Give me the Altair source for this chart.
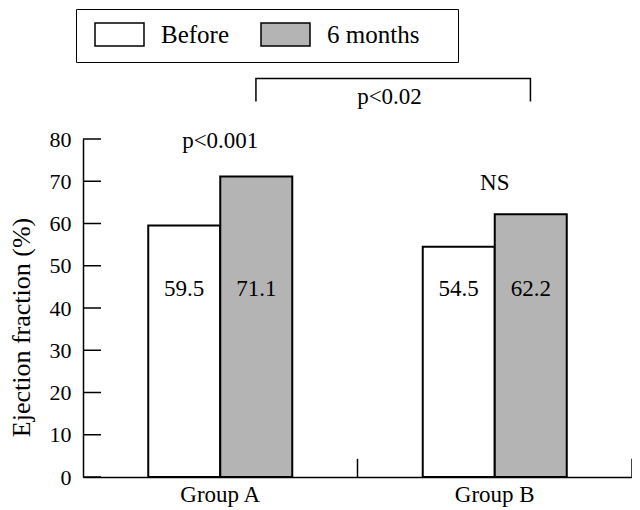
import altair as alt
import pandas as pd

# ---- data ----
groups = ["Group A", "Group A", "Group B", "Group B"]
periods = ["Before", "6 months", "Before", "6 months"]
values = [59.5, 71.1, 54.5, 62.2]
value_labels = ["59.5", "71.1", "54.5", "62.2"]
label_y = 44.4

group_names = ["Group A", "Group B"]
period_names = ["Before", "6 months"]
period_colors = ["#ffffff", "#b4b4b4"]

y_ticks = [0, 10, 20, 30, 40, 50, 60, 70, 80]

annot_groups = ["Group A", "Group B"]
annot_texts = ["p<0.001", "NS"]
annot_y = [79.6, 69.5]

bracket_groups = ["Group A", "Group A", "Group B", "Group B"]
bracket_y = [88.9, 94.3, 94.3, 88.9]
bracket_order = [0, 1, 2, 3]
bracket_text = "p<0.02"
bracket_text_y = 89.9

FONT = "Liberation Serif, Times New Roman, serif"
PAD = "\u00a0" * 4 + "\u200b"

df = pd.DataFrame({"group": groups, "period": periods, "value": values, "label": value_labels})
ticks_df = pd.DataFrame({"v": y_ticks})
annot_df = pd.DataFrame({"group": annot_groups, "text": annot_texts, "y": annot_y})
br_df = pd.DataFrame({"group": bracket_groups, "y": bracket_y, "o": bracket_order})
brt_df = pd.DataFrame({"group": ["Group A"], "text": [bracket_text], "y": [bracket_text_y]})
gb_df = pd.DataFrame({"group": group_names})

xscale = alt.Scale(domain=group_names, paddingInner=0, paddingOuter=0)
oscale = alt.Scale(domain=period_names, paddingInner=0, paddingOuter=0.906)
yscale = alt.Scale(domain=[0, 80], nice=False)

bars = alt.Chart(df).mark_bar(stroke="black", strokeWidth=2).encode(
    x=alt.X("group:N", scale=xscale, title=None,
            axis=alt.Axis(labelAngle=0, ticks=False, labelPadding=6, labelFontSize=23)),
    xOffset=alt.XOffset("period:N", scale=oscale),
    y=alt.Y("value:Q", scale=yscale,
            axis=alt.Axis(values=y_ticks, ticks=False, labelPadding=12, grid=False,
                          title="Ejection fraction (%)", titleFontSize=26,
                          titleFont=FONT, titleFontWeight="normal", titleColor="black",
                          titleX=-62, titleY=188, titleAlign="center", titleBaseline="middle")),
    fill=alt.Fill("period:N", scale=alt.Scale(domain=period_names, range=period_colors),
                  legend=alt.Legend(
                      title=None, orient="none", legendX=-7, legendY=-130,
                      direction="horizontal",
                      symbolType="M-2.13,-1H2.13V1H-2.13Z", symbolSize=529,
                      symbolStrokeColor="black", symbolStrokeWidth=1.5,
                      symbolOffset=18,
                      labelFont=FONT, labelFontSize=25, labelColor="black",
                      labelOffset=29, columnPadding=25, padding=13,
                      labelExpr="datum.label == '6 months' ? '6 months" + PAD + "' : datum.label",
                      strokeColor="black", fillColor="white")),
)

vals = alt.Chart(df).mark_text(font=FONT, fontSize=23, color="black", baseline="middle").encode(
    x=alt.X("group:N", scale=xscale),
    xOffset=alt.XOffset("period:N", scale=oscale),
    y=alt.datum(label_y),
    text="label:N",
)

yt = alt.Chart(ticks_df).mark_rule(color="black", strokeWidth=1.5).encode(
    y=alt.Y("v:Q", scale=yscale),
    x=alt.value(0),
    x2=alt.value(18),
)

xt = alt.Chart(gb_df).mark_rule(color="black", strokeWidth=1.5).encode(
    x=alt.X("group:N", scale=xscale, bandPosition=1),
    y=alt.datum(0),
    y2=alt.datum(4.3),
)

annots = alt.Chart(annot_df).mark_text(font=FONT, fontSize=23, color="black", baseline="middle").encode(
    x=alt.X("group:N", scale=xscale),
    y=alt.Y("y:Q", scale=yscale),
    text="text:N",
)

bracket = alt.Chart(br_df).mark_line(color="black", strokeWidth=1.5).encode(
    x=alt.X("group:N", scale=xscale, bandPosition=0.63),
    y=alt.Y("y:Q", scale=yscale),
    order="o:Q",
)

brtext = alt.Chart(brt_df).mark_text(font=FONT, fontSize=23, color="black", baseline="middle", dx=32).encode(
    x=alt.X("group:N", scale=xscale, bandPosition=1),
    y=alt.Y("y:Q", scale=yscale),
    text="text:N",
)

chart = alt.layer(bars, vals, yt, xt, annots, bracket, brtext).properties(
    width=549, height=338,
    autosize=alt.AutoSizeParams(type="none"),
    padding={"left": 75, "top": 131, "right": 0, "bottom": 33},
    background="white",
).configure_view(stroke=None).configure_axis(
    labelFont=FONT, labelFontSize=22, labelColor="black",
    domainColor="black", domainWidth=1.5, grid=False,
)

chart.save("out.html", embed_options={"renderer": "svg", "actions": False})
